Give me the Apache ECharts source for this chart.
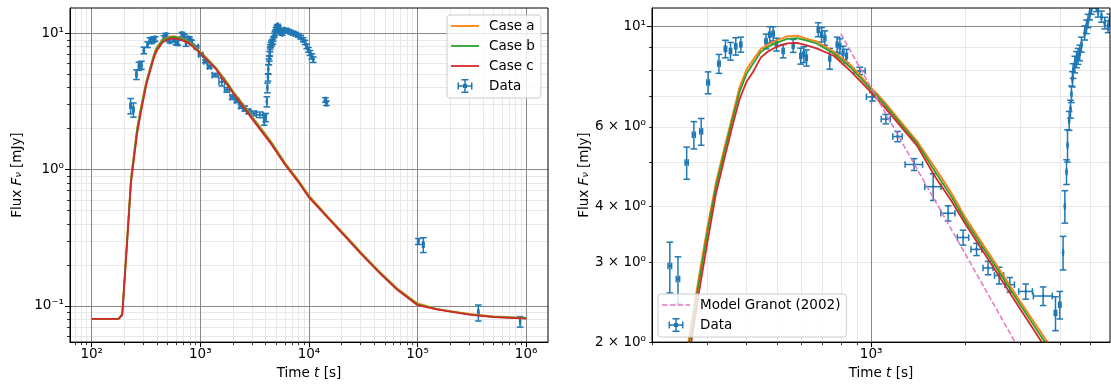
<!DOCTYPE html>
<html>
<head>
<meta charset="utf-8">
<script src="https://cdn.jsdelivr.net/npm/echarts@6/dist/echarts.min.js"></script>
<style>
  html, body { margin: 0; padding: 0; background: #ffffff; }
  #chart { width: 1111px; height: 385px; }
</style>
</head>
<body>
<div id="chart"></div>
<script>
// ---- observed light curve: time [s], flux [mJy], 1-sigma errors ----
const obsTime = [228, 242, 258, 272, 287, 302, 327, 343, 356, 370, 384, 462, 475, 487, 499, 524, 564, 596, 610, 622,
  678, 695, 712, 738, 779, 795, 814, 835, 920, 1010, 1114, 1214, 1371, 1577, 1760, 1965, 2169, 2361, 2560, 2769,
  3113, 3537, 3873, 3998, 4095, 4148, 4200, 4231, 4281, 4325, 4355, 4387, 4407, 4463, 4519, 4572, 4629, 4687, 4801, 4862,
  4920, 4982, 5044, 5110, 5167, 5230, 5295, 5428, 5561, 5697, 5768, 5900, 6100, 6457, 6800, 7178, 7550, 7980, 8400, 8872,
  9200, 9546, 9900, 10240, 10600, 10970, 14200, 14500, 101600, 113000, 363000, 880000];
const obsFlux = [2.95, 2.76, 5.00, 5.76, 5.86, 7.52, 8.28, 8.93, 8.83, 9.05, 9.13, 9.28, 9.60, 9.65, 9.13, 8.83, 9.07, 8.61, 8.68, 8.53,
  9.85, 9.60, 9.44, 8.50, 9.13, 9.05, 8.75, 8.61, 7.98, 6.99, 6.24, 5.71, 4.95, 4.42, 3.86, 3.41, 3.21, 2.92, 2.81, 2.68,
  2.59, 2.53, 2.32, 2.42, 3.16, 4.00, 4.77, 5.46, 6.19, 6.57, 7.09, 7.65, 7.98, 8.25, 8.46, 8.60, 8.75, 9.13, 9.69, 10.0,
  10.3, 10.7, 11.0, 11.3, 11.4, 11.1, 10.8, 10.53, 10.19, 10.0, 10.36, 10.6, 10.5, 10.45, 10.2, 10.07, 9.9, 9.7, 9.4, 9.0,
  8.6, 8.05, 7.6, 7.2, 6.8, 6.43, 3.25, 3.08, 0.297, 0.281, 0.0893, 0.0765];
const obsTimeErr = [3, 3, 3, 3, 3, 3, 3, 3, 3, 3, 3, 4, 4, 4, 4, 4, 4, 4, 4, 4,
  5, 5, 5, 5, 5, 5, 5, 5, 37, 44, 37, 42, 88, 94, 91, 82, 87, 87, 86, 96,
  157, 245, 35, 35, 10, 10, 10, 10, 10, 10, 10, 10, 10, 12, 12, 12, 12, 12, 12, 12,
  12, 12, 12, 12, 12, 12, 12, 14, 14, 14, 14, 15, 15, 16, 17, 18, 19, 20, 21, 22,
  23, 24, 25, 26, 27, 27, 150, 150, 1500, 2000, 4000, 5000];
const obsFluxErr = [0.38, 0.33, 0.41, 0.40, 0.40, 0.42, 0.40, 0.40, 0.40, 0.40, 0.35, 0.35, 0.40, 0.35, 0.30, 0.30, 0.30, 0.35, 0.35, 0.35,
  0.35, 0.35, 0.35, 0.45, 0.35, 0.35, 0.30, 0.30, 0.15, 0.15, 0.15, 0.15, 0.15, 0.30, 0.15, 0.13, 0.10, 0.10, 0.12, 0.10,
  0.10, 0.12, 0.20, 0.17, 0.27, 0.33, 0.30, 0.45, 0.30, 0.30, 0.30, 0.30, 0.30, 0.35, 0.35, 0.35, 0.35, 0.35, 0.35, 0.35,
  0.35, 0.35, 0.35, 0.30, 0.30, 0.30, 0.30, 0.30, 0.30, 0.30, 0.30, 0.30, 0.30, 0.30, 0.30, 0.30, 0.30, 0.30, 0.30, 0.30,
  0.30, 0.30, 0.30, 0.30, 0.30, 0.30, 0.12, 0.12, 0.015, 0.035, 0.012, 0.0068];

// ---- model light curves (three parameter cases), sampled on a shared time grid ----
const modelTime = [100, 150, 176, 191, 210, 230, 245, 262, 280, 300, 320, 340, 360, 380, 400, 420, 445, 470, 500, 540,
  580, 620, 670, 760, 860, 1000, 1100, 1250, 1400, 1600, 1800, 2000, 2500, 3000, 3500, 4500, 6000, 8000, 10000, 15000,
  22000, 30000, 45000, 65000, 100000, 150000, 200000, 300000, 500000, 1000000];
const caseA = [0.08, 0.08, 0.08, 0.087, 0.28, 0.86, 1.32, 2.03, 2.70, 3.58, 4.52, 5.38, 6.30, 7.32, 8.02, 8.45, 8.93, 9.14, 9.33, 9.52,
  9.55, 9.41, 9.28, 8.80, 8.22, 7.33, 6.82, 6.13, 5.58, 4.86, 4.29, 3.77, 2.98, 2.45, 2.09, 1.60, 1.13, 0.835, 0.645, 0.45,
  0.325, 0.248, 0.177, 0.134, 0.104, 0.095, 0.0915, 0.087, 0.0835, 0.0815];
const caseB = [0.08, 0.08, 0.08, 0.087, 0.27, 0.84, 1.28, 1.96, 2.62, 3.48, 4.43, 5.27, 6.18, 7.15, 7.85, 8.28, 8.80, 9.03, 9.22, 9.40,
  9.43, 9.32, 9.18, 8.72, 8.12, 7.25, 6.75, 6.06, 5.52, 4.77, 4.21, 3.71, 2.93, 2.41, 2.05, 1.57, 1.11, 0.82, 0.635, 0.445,
  0.321, 0.245, 0.175, 0.1325, 0.1025, 0.0945, 0.091, 0.0865, 0.083, 0.081];
const caseC = [0.08, 0.08, 0.08, 0.085, 0.26, 0.80, 1.20, 1.84, 2.49, 3.31, 4.27, 5.09, 5.98, 6.89, 7.54, 7.94, 8.55, 8.82, 9.03, 9.18,
  9.21, 9.10, 8.95, 8.62, 7.97, 7.15, 6.65, 5.98, 5.45, 4.65, 4.12, 3.65, 2.87, 2.36, 2.00, 1.54, 1.09, 0.81, 0.625, 0.44,
  0.317, 0.242, 0.173, 0.131, 0.101, 0.094, 0.0905, 0.086, 0.0825, 0.0805];

// ---- Granot (2002) power-law decay ----
const granotTime = [800, 1000, 1500, 2000, 3000];
const granotFlux = [9.65, 7.32, 4.45, 3.13, 1.90];

// ---- axis ranges and labelled ticks ----
const leftXRange = [63.1, 1.59e6];
const leftYRange = [0.0541, 15.4];
const rightXRange = [199.99, 5780];
const rightYRange = [1.9999, 11.0];
const leftXLabels = [1e2, 1e3, 1e4, 1e5, 1e6];
const leftYLabels = [0.1, 1, 10];
const rightXLabels = [1e3];
const rightYLabels = [2, 3, 4, 6, 10];

const FONT = 'DejaVu Sans';
const FS = 13.5;
const BLUE = '#1f77b4', ORANGE = '#ff7f0e', GREEN = '#2ca02c', RED = '#d62728', PINK = '#e377c2';

// minor log ticks: 2..9 times each power of ten inside the range
function minorTicks(range) {
  const out = [];
  for (let e = Math.floor(Math.log10(range[0])) - 1; e <= Math.ceil(Math.log10(range[1])); e++) {
    for (let m = 2; m <= 9; m++) {
      const v = m * Math.pow(10, e);
      if (v >= range[0] && v <= range[1]) out.push(v);
    }
  }
  return out;
}
function majorTicks(range) {
  const out = [];
  for (let e = Math.floor(Math.log10(range[0])); e <= Math.ceil(Math.log10(range[1])); e++) {
    const v = Math.pow(10, e);
    if (v >= range[0] && v <= range[1]) out.push(v);
  }
  return out;
}

const SUP = {'-': '\u207B', '0': '\u2070', '1': '\u00B9', '2': '\u00B2', '3': '\u00B3', '4': '\u2074',
  '5': '\u2075', '6': '\u2076', '7': '\u2077', '8': '\u2078', '9': '\u2079'};
const sup = n => String(n).split('').map(c => SUP[c]).join('');
const powLabel = v => '10' + sup(Math.round(Math.log10(v)));
const mantLabel = v => {
  const e = Math.floor(Math.log10(v) + 1e-9);
  const m = Math.round(v / Math.pow(10, e));
  return m === 1 ? '10' + sup(e) : m + ' \u00D7 10' + sup(e);
};

const nameRich = {
  r: { fontSize: FS, fontFamily: FONT, color: '#000' },
  i: { fontSize: FS, fontFamily: FONT, fontStyle: 'italic', color: '#000' },
  s: { fontSize: 9.5, fontFamily: FONT, fontStyle: 'italic', color: '#000', verticalAlign: 'bottom', lineHeight: 6 }
};

// one log axis drawn as two layers: minor ticks/grid underneath, major ticks/grid/labels on top
function logAxes(dim, gridIndex, range, labels, fmt, nameCfg) {
  const base = { type: 'log', logBase: 10, gridIndex: gridIndex, min: range[0], max: range[1],
    position: dim === 'x' ? 'bottom' : 'left', offset: 0 };
  const minor = Object.assign({}, base, {
    z: 0,
    axisLine: { show: false },
    axisTick: { show: true, length: 3, customValues: minorTicks(range), lineStyle: { color: '#000', width: 0.8 } },
    axisLabel: { show: false },
    splitLine: { show: true, lineStyle: { color: '#e8e8e8', width: 1 } }
  });
  const major = Object.assign({}, base, {
    z: 1,
    axisLine: { show: true, onZero: false, lineStyle: { color: '#000', width: 1 } },
    axisTick: { show: true, length: 5, customValues: majorTicks(range), lineStyle: { color: '#000', width: 1 } },
    axisLabel: { show: true, customValues: labels, formatter: fmt, margin: dim === 'x' ? 5 : 6,
      color: '#000', fontSize: FS, fontFamily: FONT, hideOverlap: false },
    splitLine: { show: true, lineStyle: { color: '#888888', width: 1 } },
    minorTick: { show: false }, minorSplitLine: { show: false }
  }, nameCfg || {});
  return [minor, major];
}

const xName = { name: '{r|Time }{i|t}{r| [s]}', nameLocation: 'middle', nameGap: 21,
  nameTextStyle: { fontSize: FS, fontFamily: FONT, color: '#000', rich: nameRich } };
const yName = gap => ({ name: '{r|Flux }{i|F}{s|\u03BD}{r| [mJy]}', nameLocation: 'middle', nameGap: gap,
  nameTextStyle: { fontSize: FS, fontFamily: FONT, color: '#000', rich: nameRich } });

const xAxes = [].concat(
  logAxes('x', 0, leftXRange, leftXLabels, powLabel, xName),
  logAxes('x', 1, rightXRange, rightXLabels, powLabel, xName)
);
const yAxes = [].concat(
  logAxes('y', 0, leftYRange, leftYLabels, powLabel, yName(46)),
  logAxes('y', 1, rightYRange, rightYLabels, mantLabel, yName(61))
);

const obsData = obsTime.map((t, i) => [t, obsFlux[i], obsTimeErr[i], obsFluxErr[i]]);
const lineData = ys => modelTime.map((t, i) => [t, ys[i]]);

// error bar glyph: vertical and horizontal bars with caps and a small central dot
function renderErrorBar(params, api) {
  const t = api.value(0), f = api.value(1), te = api.value(2), fe = api.value(3);
  const c = api.coord([t, f]);
  const top = api.coord([t, f + fe]);
  const bot = api.coord([t, f - fe]);
  const lft = api.coord([t - te, f]);
  const rgt = api.coord([t + te, f]);
  const cap = 3.3;
  const st = { stroke: BLUE, lineWidth: 1.5 };
  const cs = params.coordSys;
  const seg = (x1, y1, x2, y2) => ({ type: 'line', shape: { x1, y1, x2, y2 }, style: st });
  return {
    type: 'group',
    clipPath: { type: 'rect', shape: { x: cs.x, y: cs.y, width: cs.width, height: cs.height } },
    children: [
      seg(bot[0], bot[1], top[0], top[1]),
      seg(top[0] - cap, top[1], top[0] + cap, top[1]),
      seg(bot[0] - cap, bot[1], bot[0] + cap, bot[1]),
      seg(lft[0], lft[1], rgt[0], rgt[1]),
      seg(lft[0], lft[1] - cap, lft[0], lft[1] + cap),
      seg(rgt[0], rgt[1] - cap, rgt[0], rgt[1] + cap),
      { type: 'circle', shape: { cx: c[0], cy: c[1], r: 1.4 }, style: { fill: BLUE } }
    ]
  };
}

// legend handles
const ERR_ICON = 'path://M6.75,0h1.5v14h-1.5z M4,0h7v1.5h-7z M4,12.5h7v1.5h-7z M0,6.25h15v1.5h-15z M0,3.5h1.5v7h-1.5z M13.5,3.5h1.5v7h-1.5z M5.5,5h4v4h-4z';
const LINE_ICON = 'path://M0,0h28v1.8h-28z';
const DASH_ICON = 'path://M0,0h5.5v1.6h-5.5z M7.9,0h5.5v1.6h-5.5z M15.8,0h5.5v1.6h-5.5z M23.7,0h4.3v1.6h-4.3z';

function dataSeries(xi, yi) {
  return { name: 'Data', type: 'custom', xAxisIndex: xi, yAxisIndex: yi, clip: true, silent: true,
    itemStyle: { color: BLUE }, renderItem: renderErrorBar, encode: { x: 0, y: 1 }, data: obsData, z: 2 };
}
function lineSeries(name, color, data, xi, yi, extra) {
  return Object.assign({ name, type: 'line', xAxisIndex: xi, yAxisIndex: yi, data, showSymbol: false, symbol: 'none',
    clip: true, silent: true, color: color, lineStyle: { color: color, width: 1.8 }, z: 3 }, extra || {});
}

const legendBase = {
  orient: 'vertical', itemWidth: 28, itemHeight: 14, itemGap: 6, selectedMode: false,
  padding: [4, 6, 5, 4], backgroundColor: 'rgba(255,255,255,0.8)', borderColor: '#cccccc', borderWidth: 1, borderRadius: 3,
  textStyle: { fontSize: FS, fontFamily: FONT, color: '#000', padding: [0, 0, 0, 5] }, z: 6
};
const legendItem = (name, icon, color) => ({ name, icon, itemStyle: { color } });

const option = {
  animation: false,
  backgroundColor: '#ffffff',
  grid: [
    { left: 70, top: 8, width: 478, height: 337, show: true, borderColor: '#000', borderWidth: 1, backgroundColor: 'transparent', z: 5 },
    { left: 652, top: 8, width: 458, height: 337, show: true, borderColor: '#000', borderWidth: 1, backgroundColor: 'transparent', z: 5 }
  ],
  xAxis: xAxes,
  yAxis: yAxes,
  legend: [
    Object.assign({}, legendBase, { left: 447, top: 15,
      data: [legendItem('Case a', LINE_ICON, ORANGE), legendItem('Case b', LINE_ICON, GREEN),
        legendItem('Case c', LINE_ICON, RED), legendItem('Data', ERR_ICON, BLUE)] }),
    Object.assign({}, legendBase, { left: 658, top: 294,
      data: [legendItem('Model Granot (2002)', DASH_ICON, PINK), legendItem('Data', ERR_ICON, BLUE)] })
  ],
  series: [
    dataSeries(1, 1),
    lineSeries('Case a', ORANGE, lineData(caseA), 1, 1),
    lineSeries('Case b', GREEN, lineData(caseB), 1, 1),
    lineSeries('Case c', RED, lineData(caseC), 1, 1),
    dataSeries(3, 3),
    lineSeries('Case a', ORANGE, lineData(caseA), 3, 3),
    lineSeries('Case b', GREEN, lineData(caseB), 3, 3),
    lineSeries('Case c', RED, lineData(caseC), 3, 3),
    lineSeries('Model Granot (2002)', PINK, granotTime.map((t, i) => [t, granotFlux[i]]), 3, 3,
      { lineStyle: { color: PINK, width: 1.5, type: [5.5, 2.4] }, z: 4 })
  ]
};

const chart = echarts.init(document.getElementById('chart'), null, { renderer: 'canvas' });
chart.setOption(option);
</script>
</body>
</html>
